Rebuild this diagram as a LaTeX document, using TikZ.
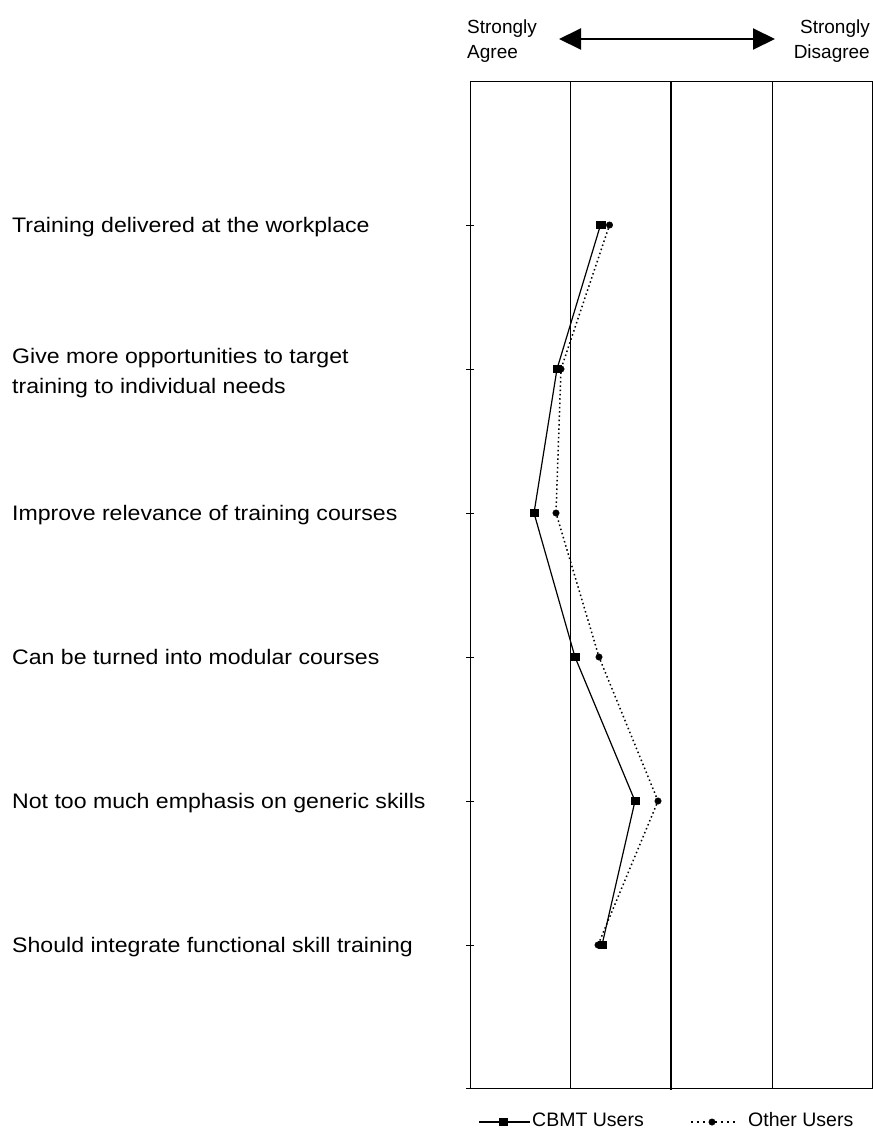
\documentclass[tikz,border=0pt]{standalone}
\usepackage{fontspec}
\setmainfont{Liberation Sans}
\newfontfamily\itemfont[FakeStretch=1.1]{Liberation Sans}
\usetikzlibrary{arrows.meta,positioning,calc}

\begin{document}
\begin{tikzpicture}[
  x=1pt, y=-1pt,
  gridline/.style={line width=0.8pt},
  midline/.style={line width=2.2pt},
  tick/.style={line width=0.8pt},
  item/.style={anchor=base west, inner sep=0pt, align=left,
               font=\itemfont\fontsize{21}{30}\selectfont},
  head/.style={inner sep=0pt, font=\fontsize{19}{25}\selectfont},
  cbmt/.style={draw, fill, rectangle, minimum width=8.5pt, minimum height=7pt, inner sep=0pt},
  other/.style={draw, fill, circle, minimum size=6.5pt, inner sep=0pt},
  cbmtline/.style={line width=1.2pt},
  otherline/.style={line width=1.5pt, dash pattern=on 1.5pt off 2.8pt},
  keydots/.style={line width=1.5pt, dash pattern=on 1.5pt off 4.5pt},
  legend/.style={anchor=base west, inner sep=0pt, font=\fontsize{19.5}{23}\selectfont}
]
\useasboundingbox (0,0) rectangle (873,1128);

% ---------------------------------------------------------------------------
% Scale header
% ---------------------------------------------------------------------------
\node[head, anchor=north west, align=left] (agree) at (467,19.5) {Strongly\\Agree};
\node[head, anchor=north east, align=right] (disagree) at (870,19.5) {Strongly\\Disagree};
\coordinate (arrL) at (559,39);
\coordinate (arrR) at (775,39);
\draw[{Triangle[length=22pt,width=21pt]}-{Triangle[length=22pt,width=21pt]}, line width=2pt]
  (arrL) -- (arrR);

% ---------------------------------------------------------------------------
% Frame and scale lines
% ---------------------------------------------------------------------------
\draw[gridline] (470,81) rectangle (872,1088);
\draw[gridline] (570,81) -- (570,1088);
\draw[midline] (671,81) -- (671,1090);
\draw[gridline] (772,81) -- (772,1088);

\draw[tick] (466,225) -- (474,225);
\draw[tick] (466,369) -- (474,369);
\draw[tick] (466,513) -- (474,513);
\draw[tick] (466,657) -- (474,657);
\draw[tick] (466,801) -- (474,801);
\draw[tick] (466,945) -- (474,945);
\draw[tick] (466,1088) -- (470,1088);

% ---------------------------------------------------------------------------
% Statements
% ---------------------------------------------------------------------------
\node[item] (s1) at (12,232.5) {Training delivered at the workplace};
\node[item] (s2) at (12,393) {Give more opportunities to target\\training to individual needs};
\node[item] (s3) at (12,520.5) {Improve relevance of training courses};
\node[item] (s4) at (12,664.5) {Can be turned into modular courses};
\node[item] (s5) at (12,808.5) {Not too much emphasis on generic skills};
\node[item] (s6) at (12,952.5) {Should integrate functional skill training};

% ---------------------------------------------------------------------------
% Mean ratings
% ---------------------------------------------------------------------------
\node[other] (o1) at (609.5,225) {};
\node[other] (o2) at (561,369) {};
\node[other] (o3) at (556,513) {};
\node[other] (o4) at (599,657) {};
\node[other] (o5) at (658,801) {};
\node[other] (o6) at (598,945) {};

\node[cbmt] (c1) at (600.5,225) {};
\node[cbmt] (c2) at (557,369) {};
\node[cbmt] (c3) at (534,513) {};
\node[cbmt] (c4) at (575,657) {};
\node[cbmt] (c5) at (635,801) {};
\node[cbmt] (c6) at (602,945) {};

\draw[otherline] (o1) -- (o2) -- (o3) -- (o4) -- (o5) -- (o6);
\draw[cbmtline] (c1) -- (c2) -- (c3) -- (c4) -- (c5) -- (c6);

% ---------------------------------------------------------------------------
% Legend
% ---------------------------------------------------------------------------
\node[legend] (cbmtlab) at (532,1126) {CBMT Users};
\node[cbmt] (cbmtkey) at (503,1122) {};
\coordinate (cbmtstart) at (479,1122);
\draw[cbmtline] (cbmtstart) -- (cbmtkey) -- ($(cbmtlab.west |- cbmtkey)+(-2,0)$);

\node[legend] (otherlab) at (748,1126) {Other Users};
\node[other] (otherkey) at (712,1122) {};
\coordinate (otherstart) at (691,1122);
\draw[keydots] (otherstart) -- (otherkey) -- ($(otherlab.west |- otherkey)+(-9,0)$);

\end{tikzpicture}
\end{document}
